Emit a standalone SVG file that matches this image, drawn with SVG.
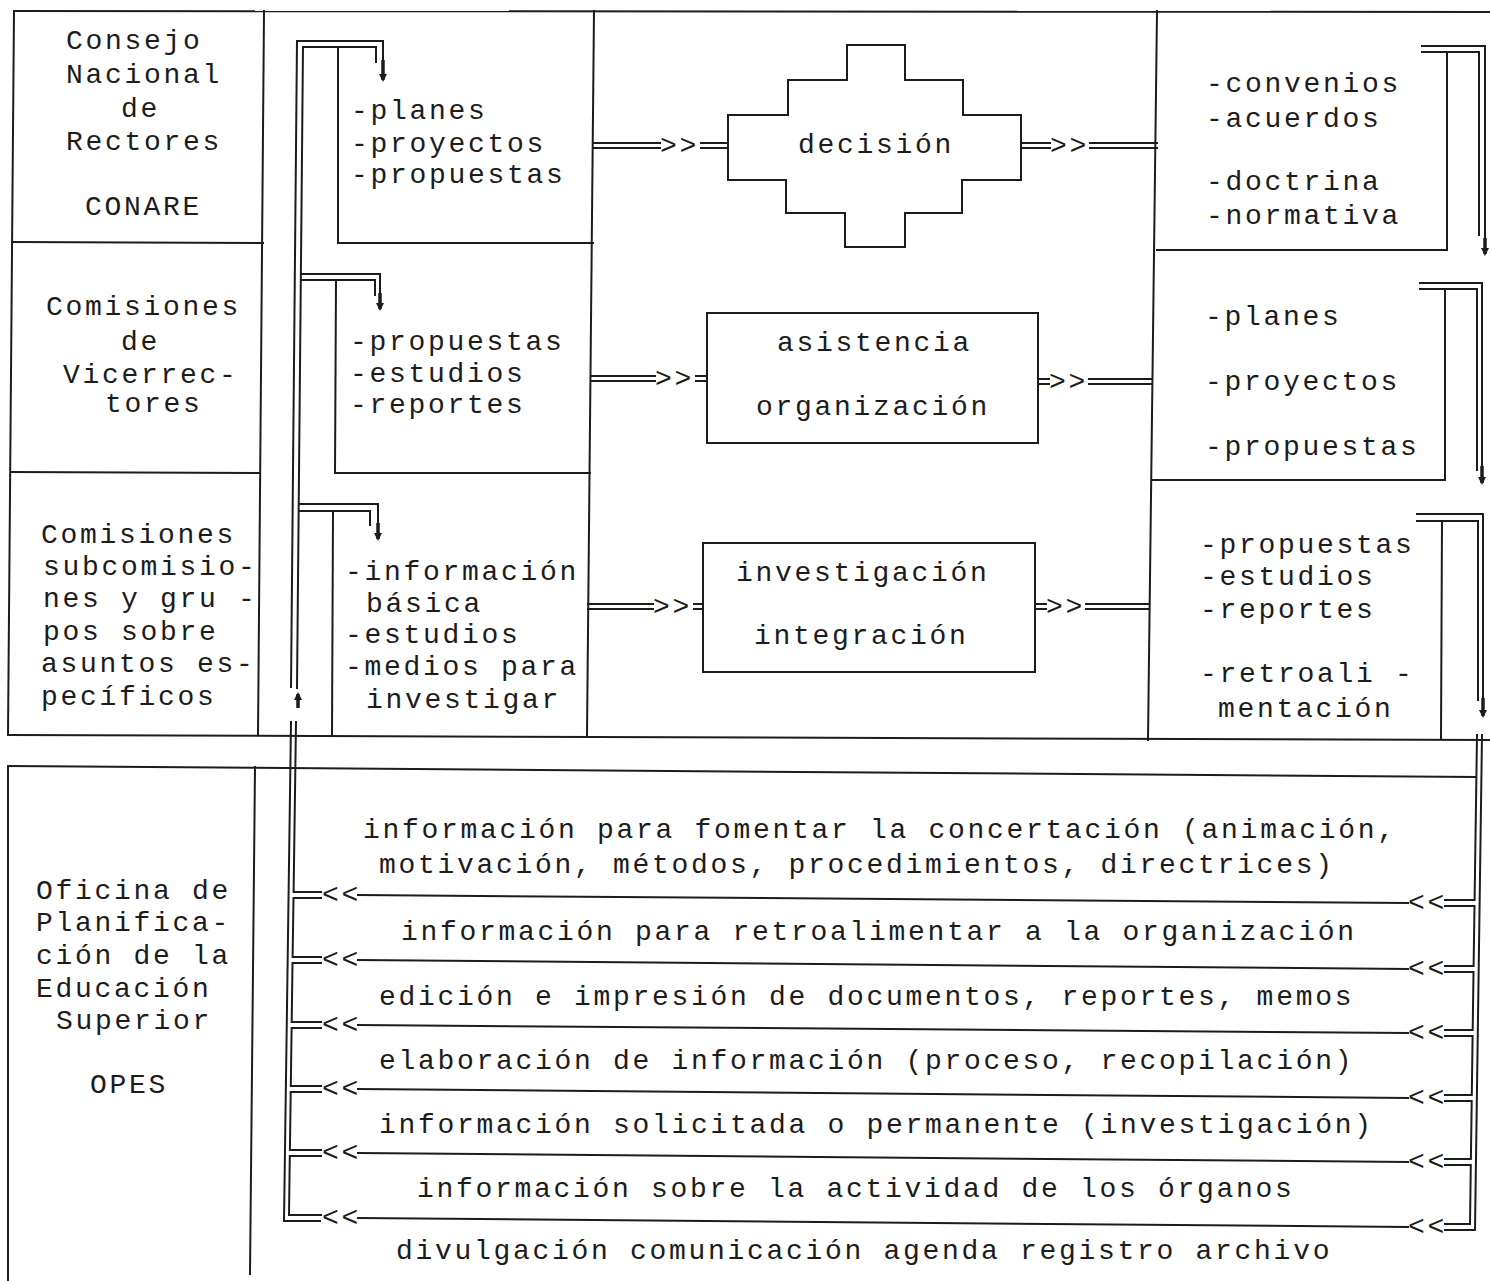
<svg xmlns="http://www.w3.org/2000/svg" width="1490" height="1281" viewBox="0 0 1490 1281">
<style>
.ln{stroke:#1c1c1c;stroke-width:2;fill:none;stroke-linecap:square}
.ar{stroke:#1c1c1c;stroke-width:3.5;fill:none}
.tx{font-family:"Liberation Mono","Courier New",monospace;font-size:28px;letter-spacing:2.7px;fill:#1c1c1c}
</style>
<defs>
<marker id="ah" viewBox="0 0 8 8" refX="6" refY="4" markerWidth="8" markerHeight="8" markerUnits="userSpaceOnUse" orient="auto"><path d="M0,0 L8,4 L0,8 z" fill="#1c1c1c"/></marker>
</defs>
<rect width="1490" height="1281" fill="#fff"/>

<g id="frame">
<line class="ln" x1="14" y1="11" x2="1490" y2="12"/>
<line class="ln" x1="8" y1="735" x2="1490" y2="740"/>
<line class="ln" x1="14" y1="11" x2="8" y2="735"/>
<line class="ln" x1="264" y1="11" x2="258" y2="735"/>
<line class="ln" x1="594" y1="11" x2="587" y2="735"/>
<line class="ln" x1="1157" y1="11" x2="1148" y2="740"/>
<line class="ln" x1="8" y1="766" x2="1476" y2="777"/>
</g>

<g id="conare">
<line class="ln" x1="14" y1="242" x2="263" y2="243"/>
<text class="tx" x="66" y="49">Consejo</text>
<text class="tx" x="66" y="83">Nacional</text>
<text class="tx" x="121" y="117">de</text>
<text class="tx" x="66" y="150">Rectores</text>
<text class="tx" x="85" y="215">CONARE</text>
</g>
<g id="vicerrectores">
<line class="ln" x1="11" y1="472" x2="260" y2="473"/>
<text class="tx" x="46" y="315">Comisiones</text>
<text class="tx" x="121" y="350">de</text>
<text class="tx" x="63" y="383">Vicerrec-</text>
<text class="tx" x="105" y="412">tores</text>
</g>
<g id="comisiones">
<text class="tx" x="41" y="543">Comisiones</text>
<text class="tx" x="43" y="575">subcomisio-</text>
<text class="tx" x="43" y="607">nes y gru -</text>
<text class="tx" x="43" y="640">pos sobre</text>
<text class="tx" x="41" y="672">asuntos es-</text>
<text class="tx" x="41" y="705">pecíficos</text>
</g>
<g id="opes">
<line class="ln" x1="8" y1="766" x2="8" y2="1281"/>
<line class="ln" x1="255" y1="767" x2="250" y2="1274"/>
<text class="tx" x="36" y="899">Oficina de</text>
<text class="tx" x="36" y="931">Planifica-</text>
<text class="tx" x="36" y="964">ción de la</text>
<text class="tx" x="36" y="997">Educación</text>
<text class="tx" x="56" y="1029">Superior</text>
<text class="tx" x="90" y="1093">OPES</text>
</g>

<g id="in1">
<polyline class="ln" points="338,47 338,243 593,243"/>
<text class="tx" x="351" y="119">-planes</text>
<text class="tx" x="351" y="152">-proyectos</text>
<text class="tx" x="351" y="183">-propuestas</text>
</g>
<g id="in2">
<polyline class="ln" points="336,280 335,473 590,473"/>
<text class="tx" x="350" y="350">-propuestas</text>
<text class="tx" x="350" y="382">-estudios</text>
<text class="tx" x="350" y="413">-reportes</text>
</g>
<g id="in3">
<line class="ln" x1="333" y1="511" x2="332" y2="735"/>
<text class="tx" x="345" y="580">-información</text>
<text class="tx" x="366" y="612">básica</text>
<text class="tx" x="345" y="643">-estudios</text>
<text class="tx" x="345" y="675">-medios para</text>
<text class="tx" x="366" y="708">investigar</text>
</g>

<g id="decision">
<polygon class="ln" points="847,45 905,45 905,80 963,80 963,115 1021,115 1021,180 962,180 962,213 905,213 905,247 845,247 845,213 786,213 786,180 728,180 728,115 788,115 788,80 847,80"/>
<text class="tx" x="798" y="153">decisión</text>
</g>
<g id="asistencia">
<rect class="ln" x="707" y="313" width="331" height="130"/>
<text class="tx" x="777" y="351">asistencia</text>
<text class="tx" x="756" y="415">organización</text>
</g>
<g id="investigacion">
<rect class="ln" x="703" y="543" width="332" height="129"/>
<text class="tx" x="736" y="581">investigación</text>
<text class="tx" x="754" y="644">integración</text>
</g>

<g id="out1">
<polyline class="ln" points="1157,250 1447,250 1447,52"/>
<text class="tx" x="1206" y="92">-convenios</text>
<text class="tx" x="1206" y="127">-acuerdos</text>
<text class="tx" x="1206" y="190">-doctrina</text>
<text class="tx" x="1206" y="224">-normativa</text>
</g>
<g id="out2">
<polyline class="ln" points="1152,480 1445,480 1445,289"/>
<text class="tx" x="1205" y="325">-planes</text>
<text class="tx" x="1205" y="390">-proyectos</text>
<text class="tx" x="1205" y="455">-propuestas</text>
</g>
<g id="out3">
<line class="ln" x1="1441" y1="738" x2="1442" y2="521"/>
<text class="tx" x="1200" y="553">-propuestas</text>
<text class="tx" x="1200" y="585">-estudios</text>
<text class="tx" x="1200" y="618">-reportes</text>
<text class="tx" x="1200" y="682">-retroali -</text>
<text class="tx" x="1218" y="717">mentación</text>
</g>

<g id="flows">
<text class="tx" x="363" y="838">información para fomentar la concertación (animación,</text>
<text class="tx" x="379" y="873">motivación, métodos, procedimientos, directrices)</text>
<text class="tx" x="401" y="940">información para retroalimentar a la organización</text>
<text class="tx" x="379" y="1005">edición e impresión de documentos, reportes, memos</text>
<text class="tx" x="379" y="1069">elaboración de información (proceso,  recopilación)</text>
<text class="tx" x="379" y="1133">información solicitada o permanente (investigación)</text>
<text class="tx" x="417" y="1197">información sobre la actividad de los órganos</text>
<text class="tx" x="396" y="1259">divulgación comunicación agenda registro archivo</text>
</g>

<g id="connectors">
<line class="ln" x1="297" y1="41" x2="291" y2="687"/>
<line class="ln" x1="303" y1="47" x2="297" y2="688"/>
<polyline class="ln" points="297,41 383,41 383,62"/>
<polyline class="ln" points="303,47 376,47 376,62"/>
<line class="ar" x1="383" y1="60" x2="383" y2="80" marker-end="url(#ah)"/>
<polyline class="ln" points="301,274 380,274 380,295"/>
<polyline class="ln" points="301,280 375,280 375,295"/>
<line class="ar" x1="380" y1="293" x2="380" y2="309" marker-end="url(#ah)"/>
<polyline class="ln" points="299,504 378,504 378,525"/>
<polyline class="ln" points="299,511 370,511 370,525"/>
<line class="ar" x1="378" y1="523" x2="378" y2="539" marker-end="url(#ah)"/>
<line class="ar" x1="298" y1="708" x2="298" y2="694" marker-end="url(#ah)"/>

<polyline class="ln" points="1422,46 1485,46 1485,240"/>
<polyline class="ln" points="1422,52 1479,52 1479,235"/>
<line class="ar" x1="1485" y1="238" x2="1485" y2="254" marker-end="url(#ah)"/>
<polyline class="ln" points="1420,283 1482,283 1482,468"/>
<polyline class="ln" points="1420,289 1477,289 1477,470"/>
<line class="ar" x1="1482" y1="466" x2="1482" y2="483" marker-end="url(#ah)"/>
<polyline class="ln" points="1417,514 1483,514 1483,700"/>
<polyline class="ln" points="1417,521 1478,521 1478,700"/>
<line class="ar" x1="1483" y1="698" x2="1483" y2="716" marker-end="url(#ah)"/>

<line class="ln" x1="594" y1="143" x2="660" y2="143"/><line class="ln" x1="594" y1="148" x2="660" y2="148"/>
<text class="tx" x="660" y="154">&gt;&gt;</text>
<line class="ln" x1="701" y1="143" x2="728" y2="143"/><line class="ln" x1="701" y1="148" x2="728" y2="148"/>
<line class="ln" x1="1021" y1="143" x2="1050" y2="143"/><line class="ln" x1="1021" y1="148" x2="1050" y2="148"/>
<text class="tx" x="1050" y="154">&gt;&gt;</text>
<line class="ln" x1="1090" y1="143" x2="1157" y2="143"/><line class="ln" x1="1090" y1="148" x2="1157" y2="148"/>

<line class="ln" x1="592" y1="376" x2="655" y2="376"/><line class="ln" x1="592" y1="381" x2="655" y2="381"/>
<text class="tx" x="655" y="387">&gt;&gt;</text>
<line class="ln" x1="696" y1="376" x2="707" y2="376"/><line class="ln" x1="696" y1="381" x2="707" y2="381"/>
<line class="ln" x1="1038" y1="379" x2="1049" y2="379"/><line class="ln" x1="1038" y1="384" x2="1049" y2="384"/>
<text class="tx" x="1049" y="390">&gt;&gt;</text>
<line class="ln" x1="1089" y1="379" x2="1152" y2="379"/><line class="ln" x1="1089" y1="384" x2="1152" y2="384"/>

<line class="ln" x1="588" y1="604" x2="653" y2="604"/><line class="ln" x1="588" y1="609" x2="653" y2="609"/>
<text class="tx" x="653" y="615">&gt;&gt;</text>
<line class="ln" x1="694" y1="604" x2="703" y2="604"/><line class="ln" x1="694" y1="609" x2="703" y2="609"/>
<line class="ln" x1="1035" y1="604" x2="1046" y2="604"/><line class="ln" x1="1035" y1="609" x2="1046" y2="609"/>
<text class="tx" x="1046" y="615">&gt;&gt;</text>
<line class="ln" x1="1086" y1="604" x2="1148" y2="604"/><line class="ln" x1="1086" y1="609" x2="1148" y2="609"/>

<polyline class="ln" points="291,722 284,1221 320,1221"/>
<polyline class="ln" points="296,722 293.6,892 321,892"/>
<polyline class="ln" points="321,898 293.5,898 292.6,957 321,957"/>
<polyline class="ln" points="321,963 292.5,963 291.7,1022 321,1022"/>
<polyline class="ln" points="321,1028 291.6,1028 290.8,1086 321,1086"/>
<polyline class="ln" points="321,1092 290.7,1092 289.9,1150 321,1150"/>
<polyline class="ln" points="321,1156 289.8,1156 289,1215 321,1215"/>

<polyline class="ln" points="1482,735 1475,1230 1445,1230"/>
<polyline class="ln" points="1477,735 1474.6,900 1445,900"/>
<polyline class="ln" points="1445,906 1474.5,906 1473.6,966 1445,966"/>
<polyline class="ln" points="1445,972 1473.5,972 1472.7,1030 1445,1030"/>
<polyline class="ln" points="1445,1036 1472.6,1036 1471.8,1095 1445,1095"/>
<polyline class="ln" points="1445,1101 1471.7,1101 1470.9,1159 1445,1159"/>
<polyline class="ln" points="1445,1165 1470.8,1165 1470,1224 1445,1224"/>

<text class="tx" x="322" y="903">&lt;&lt;</text>
<line class="ln" x1="358" y1="895" x2="1408" y2="903"/>
<text class="tx" x="1408" y="911">&lt;&lt;</text>
<text class="tx" x="322" y="968">&lt;&lt;</text>
<line class="ln" x1="358" y1="960" x2="1408" y2="969"/>
<text class="tx" x="1408" y="977">&lt;&lt;</text>
<text class="tx" x="322" y="1033">&lt;&lt;</text>
<line class="ln" x1="358" y1="1025" x2="1408" y2="1033"/>
<text class="tx" x="1408" y="1041">&lt;&lt;</text>
<text class="tx" x="322" y="1097">&lt;&lt;</text>
<line class="ln" x1="358" y1="1089" x2="1408" y2="1098"/>
<text class="tx" x="1408" y="1106">&lt;&lt;</text>
<text class="tx" x="322" y="1161">&lt;&lt;</text>
<line class="ln" x1="358" y1="1153" x2="1408" y2="1162"/>
<text class="tx" x="1408" y="1170">&lt;&lt;</text>
<text class="tx" x="322" y="1226">&lt;&lt;</text>
<line class="ln" x1="358" y1="1218" x2="1408" y2="1227"/>
<text class="tx" x="1408" y="1235">&lt;&lt;</text>
</g>
</svg>
